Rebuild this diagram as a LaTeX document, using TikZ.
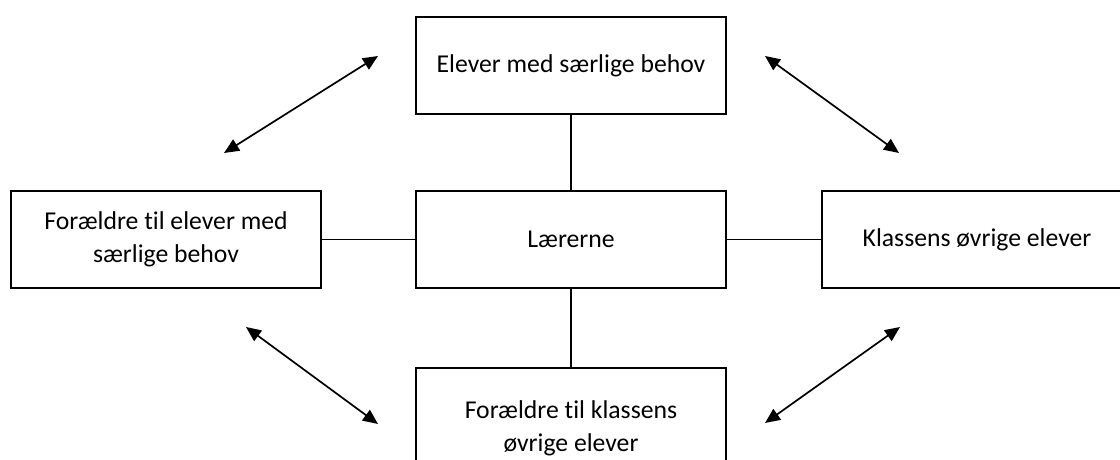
\documentclass[tikz,border=0pt]{standalone}
\usepackage{fontspec}
\setmainfont[RawFeature=-liga]{Carlito}
\usetikzlibrary{arrows.meta}
\begin{document}
\begin{tikzpicture}[x=1pt,y=-1pt,
  box/.style={draw=black,line width=1.8pt,fill=white,minimum width=310pt,minimum height=97pt,inner sep=0pt,align=center,font=\fontsize{25.7}{33}\selectfont},
  link/.style={draw=black,line width=1.8pt},
  dbl/.style={draw=black,line width=1.7pt,{Triangle[length=15pt,width=13pt]}-{Triangle[length=15pt,width=13pt]}}]
\clip (0,0) rectangle (1120,460);
\fill[white] (0,0) rectangle (1120,460);
\node[box] (top) at (571,65.5) {Elever med særlige behov};
\node[box] (mid) at (571,239.5) {Lærerne};
\node[box] (left) at (166,239.5) {Forældre til elever med\\særlige behov};
\node[box] (right) at (977,239.5) {\raisebox{-3pt}{Klassens øvrige elever}};
\node[box,minimum height=121pt] (bot) at (571,428.5) {Forældre til klassens\\øvrige elever};
\draw[link] (top.south) -- (mid.north);
\draw[link] (mid.west) -- (left.east);
\draw[link] (mid.east) -- (right.west);
\draw[link] (mid.south) -- (bot.north);
\coordinate (a1) at (224,153);
\coordinate (a2) at (378,56);
\coordinate (b1) at (765,56);
\coordinate (b2) at (899,153);
\coordinate (c1) at (246,327);
\coordinate (c2) at (378,424);
\coordinate (d1) at (765,423);
\coordinate (d2) at (900,327);
\draw[dbl] (a1) -- (a2);
\draw[dbl] (b1) -- (b2);
\draw[dbl] (c1) -- (c2);
\draw[dbl] (d1) -- (d2);
\end{tikzpicture}
\end{document}
